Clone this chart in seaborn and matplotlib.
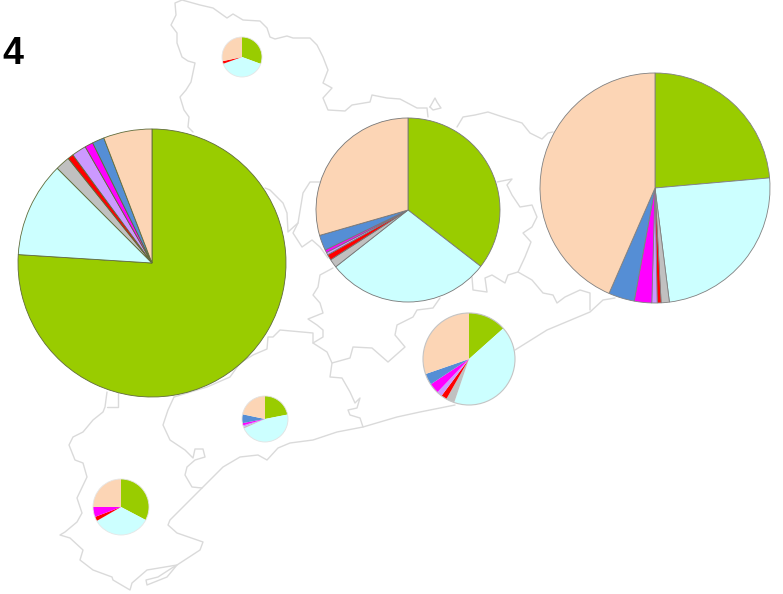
import matplotlib
matplotlib.use("Agg")
import matplotlib.pyplot as plt
import seaborn as sns
import pandas as pd

# Slice order is the same in every pie, clockwise from 12 o'clock
SLICE_COLORS = ["#99cc00", "#ccffff", "#c0c0c0", "#ff0000",
                "#cc99ff", "#ff00ff", "#558ed5", "#fcd5b5"]

pie_big = [76.0, 11.5, 1.75, 0.7, 1.75, 1.0, 1.45, 5.85]
pie_mid = [35.5, 28.9, 1.5, 1.0, 0.45, 0.5, 2.7, 29.45]
pie_right = [23.6, 24.4, 1.15, 0.55, 0.75, 2.45, 3.65, 43.45]
pie_coast = [13.4, 41.8, 3.0, 2.0, 1.9, 3.6, 4.0, 30.3]
pie_south = [21.9, 46.4, 1.1, 0.0, 1.1, 1.6, 6.2, 21.7]
pie_delta = [32.7, 34.0, 0.0, 2.5, 0.0, 5.8, 0.0, 25.0]
pie_north = [30.6, 38.9, 0.0, 2.1, 0.0, 0.0, 0.0, 28.4]

# pie values, centre x, centre y, radius, edge colour, edge width, slices outlined or not
PIES = [
    (pie_big, 152, 263, 134, "#5f6b3a", 0.6, True),
    (pie_mid, 408, 210, 92, "#777777", 0.6, True),
    (pie_right, 655, 188, 115, "#808080", 0.6, True),
    (pie_coast, 469, 359, 46, "#c4c4c4", 0.8, False),
    (pie_south, 265, 419, 23, "#e2e2e2", 0.6, False),
    (pie_delta, 121, 507, 28, "#e6e6e6", 0.6, False),
    (pie_north, 242, 57, 20, "#e6e6e6", 0.6, False),
]

# Map outlines
north = [(193, 132), (188, 127), (189, 117), (184, 110), (180, 97), (186, 90), (191, 82), (195, 63),
         (188, 61), (182, 57), (177, 43), (177, 33), (171, 25), (176, 15), (175, 3), (182, 0), (200, 5),
         (213, 8), (227, 18), (233, 14), (243, 20), (260, 21), (267, 28), (270, 37), (275, 39), (287, 36),
         (293, 38), (310, 38), (317, 45), (323, 57), (328, 70), (323, 83), (332, 88), (323, 98), (328, 110),
         (345, 111), (352, 105), (370, 102), (372, 95), (387, 98), (400, 99), (417, 108), (427, 108), (428, 117)]
islet = [(430, 107), (435, 98), (437, 102), (441, 108), (433, 110), (430, 107)]
north_east = [(457, 127), (463, 117), (475, 115), (488, 112), (500, 116), (522, 123), (530, 133),
              (542, 139), (548, 133), (553, 132)]
east_inner = [(497, 182), (512, 179), (507, 185), (512, 195), (520, 207), (532, 205), (537, 217), (532, 227),
              (523, 233), (531, 242), (525, 257), (518, 272), (532, 280), (543, 293), (553, 295), (557, 303),
              (565, 297), (580, 290), (590, 293), (590, 310)]
east_loop = [(518, 272), (508, 275), (505, 283), (492, 275), (485, 278), (487, 292), (473, 290), (472, 277)]
coast_upper = [(615, 298), (603, 300), (590, 312), (547, 330), (515, 350)]
coast_lower = [(455, 405), (420, 412), (397, 417), (363, 427), (337, 432), (313, 440), (290, 443), (278, 448),
               (267, 460), (258, 455), (240, 457), (223, 467), (202, 488), (170, 520), (168, 525), (177, 533),
               (203, 542), (200, 550), (177, 565), (147, 570), (132, 583), (130, 590), (113, 580), (112, 577),
               (93, 570), (80, 560), (83, 550), (70, 538), (60, 535), (65, 532), (77, 522), (82, 513), (77, 498),
               (87, 477), (83, 463), (75, 460), (69, 445), (73, 437), (83, 432), (93, 420), (103, 412), (105, 407),
               (107, 392)]
delta_spit = [(177, 565), (167, 577), (147, 585), (146, 580), (158, 577), (175, 566)]
south_inner = [(107, 407), (118, 407), (118, 393)]
ebre = [(174, 397), (168, 410), (163, 425), (170, 440), (185, 450), (193, 458), (195, 449), (203, 449), (205, 457),
        (195, 460), (187, 467), (185, 475), (192, 487), (202, 488)]
pie_edge = [(174, 397), (207, 387), (230, 377), (240, 363), (253, 355), (267, 349), (268, 337), (273, 337), (280, 330),
            (313, 333), (313, 343), (327, 352), (332, 363), (330, 377), (342, 378), (350, 392), (355, 403),
            (360, 398), (357, 408), (348, 410), (350, 415), (360, 418), (363, 427)]
centre_a = [(333, 268), (320, 275), (318, 287), (313, 295), (320, 303), (323, 313), (308, 319), (317, 325),
            (323, 330), (323, 337), (313, 343)]
centre_b = [(332, 363), (350, 358), (353, 347), (372, 348), (388, 362), (405, 347), (395, 335), (397, 325),
            (413, 317), (417, 310), (433, 308), (440, 298)]
west_a = [(265, 188), (270, 190), (283, 203), (287, 213), (288, 232), (298, 223), (303, 193), (310, 182), (320, 182)]
west_b = [(298, 223), (293, 233), (302, 247), (312, 240), (320, 247), (328, 258)]

OUTLINES = [north, islet, north_east, east_inner, east_loop, coast_upper, coast_lower, delta_spit,
            south_inner, ebre, pie_edge, centre_a, centre_b, west_a, west_b]

WIDTH = 783
HEIGHT = 594

sns.set_theme(style="white")
plt.rcParams["font.family"] = ["Liberation Sans", "DejaVu Sans"]

fig = plt.figure(figsize=(WIDTH / 100, HEIGHT / 100), dpi=100)
ax = fig.add_axes([0, 0, 1, 1])

# Map first so the pies sit on top of it
for path in OUTLINES:
    df = pd.DataFrame(path, columns=["x", "y"])
    df["y"] = HEIGHT - df["y"]
    sns.lineplot(data=df, x="x", y="y", sort=False, estimator=None, color="#dadada",
                 linewidth=1.0, ax=ax, legend=False, zorder=1)

palette = sns.color_palette(SLICE_COLORS)
for values, cx, cy, radius, edge, lw, outlined in PIES:
    kept = [(v, c) for v, c in zip(values, palette) if v > 0]
    if outlined:
        wedge_style = {"edgecolor": edge, "linewidth": lw, "zorder": 3}
    else:
        wedge_style = {"edgecolor": "none", "linewidth": 0, "zorder": 3}
    ax.pie([k[0] for k in kept], colors=[k[1] for k in kept], center=(cx, HEIGHT - cy), radius=radius,
           startangle=90, counterclock=False, frame=True, normalize=True, wedgeprops=wedge_style)
    if not outlined:
        ax.add_patch(plt.Circle((cx, HEIGHT - cy), radius, fill=False, edgecolor=edge, linewidth=lw, zorder=4))

ax.text(2, HEIGHT - 64, "4", fontsize=27, fontweight="bold", color="black", ha="left", va="baseline")

ax.set_xlim(0, WIDTH)
ax.set_ylim(0, HEIGHT)
ax.set_aspect("equal")
ax.axis("off")

fig.savefig("out.png", dpi=100)
plt.close(fig)
